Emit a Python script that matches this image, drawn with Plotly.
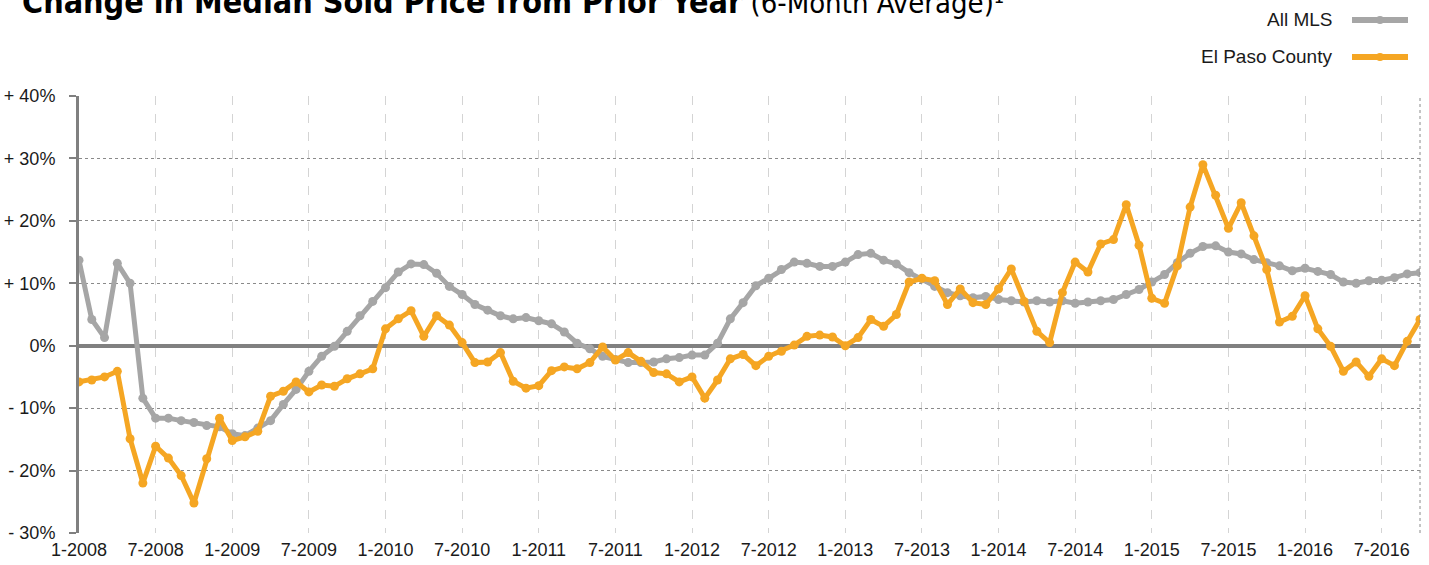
import plotly.graph_objects as go

# ---------------- data ----------------
years = list(range(2008, 2017))
month_labels = [f"{m}-{y}" for y in years for m in range(1, 13)][:106]

all_mls = [
    13.7, 4.2, 1.3, 13.2, 10.0, -8.4, -11.6, -11.6, -12.0, -12.3, -12.8, -13.0,   # 2008
    -14.1, -14.4, -13.2, -12.0, -9.4, -7.0, -4.1, -1.7, -0.1, 2.3, 4.8, 7.1,      # 2009
    9.3, 11.8, 13.1, 13.0, 11.6, 9.5, 8.2, 6.6, 5.7, 4.8, 4.3, 4.5,               # 2010
    4.0, 3.5, 2.2, 0.4, -0.5, -1.7, -2.2, -2.7, -2.7, -2.6, -2.1, -1.9,           # 2011
    -1.5, -1.5, 0.4, 4.3, 6.9, 9.6, 10.8, 12.2, 13.4, 13.2, 12.7, 12.7,           # 2012
    13.4, 14.6, 14.8, 13.7, 13.1, 11.7, 10.7, 9.5, 8.5, 8.0, 7.7, 7.9,            # 2013
    7.4, 7.2, 7.0, 7.2, 7.0, 7.2, 6.8, 7.0, 7.2, 7.4, 8.2, 9.0,                   # 2014
    10.2, 11.4, 13.3, 14.8, 15.9, 16.0, 15.0, 14.7, 13.8, 13.3, 12.8, 12.0,       # 2015
    12.4, 11.9, 11.4, 10.2, 10.0, 10.4, 10.5, 10.9, 11.5, 11.7,                   # 2016
]

el_paso = [
    -5.8, -5.5, -5.0, -4.1, -14.9, -22.0, -16.1, -18.0, -20.8, -25.2, -18.1, -11.6,  # 2008
    -15.2, -14.6, -13.7, -8.1, -7.3, -5.8, -7.4, -6.3, -6.5, -5.3, -4.5, -3.7,       # 2009
    2.7, 4.3, 5.6, 1.5, 4.8, 3.3, 0.5, -2.7, -2.6, -1.1, -5.7, -6.8,                 # 2010
    -6.4, -4.0, -3.4, -3.7, -2.7, -0.2, -2.3, -1.1, -2.5, -4.3, -4.5, -5.8,          # 2011
    -5.0, -8.4, -5.5, -2.1, -1.4, -3.2, -1.7, -0.9, 0.1, 1.5, 1.7, 1.4,              # 2012
    0.0, 1.3, 4.2, 3.1, 5.0, 10.2, 10.8, 10.4, 6.6, 9.1, 6.9, 6.6,                   # 2013
    9.1, 12.3, 7.1, 2.3, 0.5, 8.5, 13.4, 11.8, 16.3, 17.0, 22.6, 16.1,               # 2014
    7.6, 6.8, 12.8, 22.2, 29.0, 24.1, 18.8, 22.9, 17.6, 12.2, 3.8, 4.7,              # 2015
    8.0, 2.7, -0.1, -4.1, -2.6, -4.9, -2.1, -3.2, 0.7, 4.2,                          # 2016
]

x_tick_labels = month_labels[::6]
y_tick_vals = [40, 30, 20, 10, 0, -10, -20, -30]
y_tick_text = ["+ 40%", "+ 30%", "+ 20%", "+ 10%", "0%", "- 10%", "- 20%", "- 30%"]

series_names = ["All MLS", "El Paso County"]

# ---------------- style ----------------
GRAY = "#A6A6A6"
ORANGE = "#F5A623"
AXIS = "#808080"
W, H = 1429, 565
ML, MR, MT, MB = 79, 9, 96, 32
PW, PH = W - ML - MR, H - MT - MB
FONT = "Liberation Sans, Arial, Helvetica, sans-serif"
TITLE_FONT = "Liberation Sans Narrow, Arial Narrow, DejaVu Sans Condensed, Roboto, sans-serif"


def px_x(px):
    return (px - ML) / PW


def px_y(py):
    return (H - MB - py) / PH


fig = go.Figure()
for name, vals, col in [(series_names[0], all_mls, GRAY), (series_names[1], el_paso, ORANGE)]:
    fig.add_trace(go.Scatter(
        x=month_labels, y=vals, mode="lines+markers", name=name,
        line=dict(color=col, width=5),
        marker=dict(size=9, color=col, line=dict(width=0)),
        hovertemplate="%{x}: %{y:.1f}%<extra>" + name + "</extra>",
    ))

fig.update_layout(
    width=W, height=H,
    margin=dict(l=ML, r=MR, t=MT, b=MB, autoexpand=False),
    paper_bgcolor="white", plot_bgcolor="white",
    showlegend=False,
    font=dict(family=FONT, size=18, color="#1a1a1a"),
    xaxis=dict(
        type="category", range=[0, len(month_labels) - 1],
        tickmode="array", tickvals=x_tick_labels, ticktext=x_tick_labels,
        showgrid=True, gridcolor="#d4d4d4", griddash="dash", gridwidth=1,
        ticks="", showline=False, zeroline=False, automargin=False,
        tickfont=dict(size=18, family=FONT, color="#1a1a1a"),
        ticklabelstandoff=4,
    ),
    yaxis=dict(
        range=[-30, 40], automargin=False,
        tickmode="array", tickvals=y_tick_vals, ticktext=y_tick_text,
        showgrid=True, gridcolor="#8a8a8a", griddash="dot", gridwidth=1,
        zeroline=True, zerolinecolor=AXIS, zerolinewidth=4,
        showline=True, linecolor=AXIS, linewidth=3,
        ticks="outside", ticklen=7, tickwidth=2, tickcolor=AXIS,
        tickfont=dict(size=18, family=FONT, color="#1a1a1a"),
        ticklabelstandoff=10,
    ),
)

# right dotted border
fig.add_shape(type="line", xref="paper", yref="paper", x0=1, x1=1, y0=0, y1=1,
              line=dict(color="#8a8a8a", width=1, dash="dot"))

# title (cropped at the top edge like the reference)
fig.add_annotation(
    xref="paper", yref="paper", x=px_x(20), y=px_y(23),
    xanchor="left", yanchor="bottom", showarrow=False,
    text=("<b>Change in Median Sold Price from Prior Year</b>"
          "<span style='font-size:29px'> (6-Month Average)¹</span>"),
    font=dict(family=TITLE_FONT, size=32, color="#000000"),
)

# custom legend: text on the left, line sample on the right
for name, col, py in [(series_names[0], GRAY, 20), (series_names[1], ORANGE, 57)]:
    fig.add_annotation(
        xref="paper", yref="paper", x=px_x(1334), y=px_y(py),
        xanchor="right", yanchor="middle", showarrow=False,
        text=name, font=dict(family=FONT, size=19, color="#1a1a1a"),
    )
    fig.add_shape(type="line", xref="paper", yref="paper",
                  x0=px_x(1352), x1=px_x(1408), y0=px_y(py), y1=px_y(py),
                  line=dict(color=col, width=6))
    fig.add_shape(type="circle", xref="paper", yref="paper",
                  x0=px_x(1376), x1=px_x(1384), y0=px_y(py + 4), y1=px_y(py - 4),
                  line=dict(color=col, width=0), fillcolor=col)

fig.write_html(
    "out.html",
    config={"displayModeBar": False},
    post_script="document.body.style.margin='0px';document.body.style.overflow='hidden';",
)
